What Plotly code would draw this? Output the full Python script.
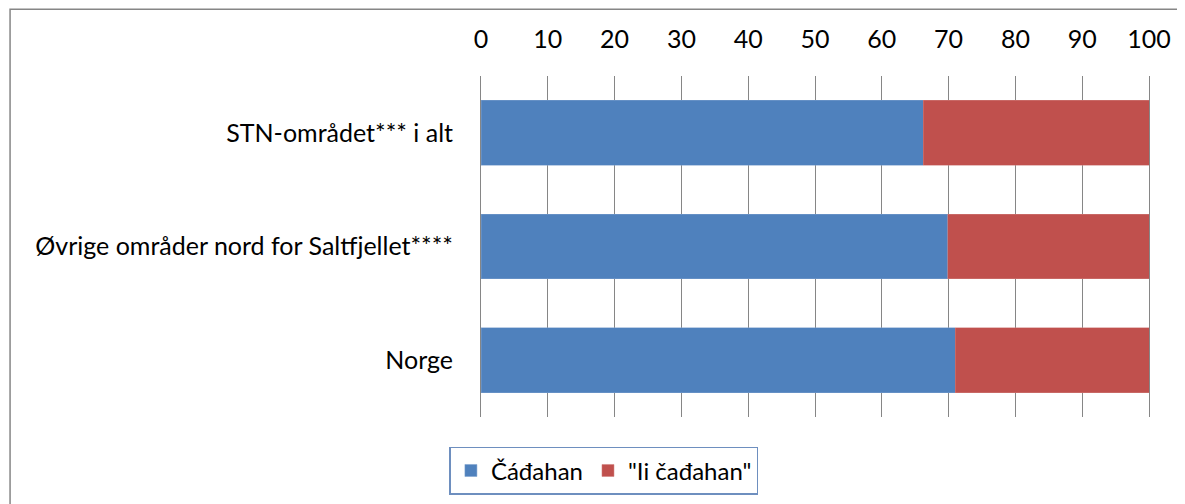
import plotly.graph_objects as go

categories = ["STN-området*** i alt", "Øvrige områder nord for Saltfjellet****", "Norge"]
cadahan = [66.2, 69.9, 71.0]
ii_cadahan = [33.8, 30.1, 29.0]
series_names = ["Čáđahan", "\"Ii čađahan\""]
x_ticks = list(range(0, 101, 10))

font_family = "Lato, Liberation Sans, Arial"

fig = go.Figure()
fig.add_trace(go.Bar(y=categories, x=cadahan, name=series_names[0], orientation="h",
                     marker=dict(color="#4F81BD", line=dict(color="#7BA0CD", width=0.5))))
fig.add_trace(go.Bar(y=categories, x=ii_cadahan, name=series_names[1], orientation="h",
                     marker=dict(color="#C0504D", line=dict(color="#D07F7D", width=0.5))))

fig.update_layout(
    barmode="stack",
    width=1185, height=504,
    margin=dict(l=473, r=44, t=68, b=95),
    paper_bgcolor="white", plot_bgcolor="white",
    font=dict(family=font_family, size=25, color="#000000"),
    bargap=0.43,
    legend=dict(orientation="h", x=0.184, y=-0.158, xanchor="center", yanchor="middle",
                bordercolor="#6E8FBF", borderwidth=1.5, bgcolor="white",
                font=dict(size=24), itemwidth=30, traceorder="normal"),
    showlegend=True,
)
fig.update_xaxes(side="top", range=[0, 100], tickvals=x_ticks, ticktext=[str(v) for v in x_ticks],
                 showgrid=True, gridcolor="#868686", gridwidth=1, zeroline=False,
                 showline=False, ticks="", ticklabelstandoff=22, fixedrange=True)
fig.update_yaxes(categoryorder="array", categoryarray=categories[::-1], autorange=True,
                 showgrid=False, showline=True, mirror=True, linecolor="#868686", linewidth=1,
                 zeroline=False, ticks="", ticklabelstandoff=22)
fig.add_shape(type="rect", xref="paper", yref="paper", x0=-0.705, y0=-0.4, x1=1.2, y1=1.196,
              line=dict(color="#868686", width=1.5), fillcolor="rgba(0,0,0,0)", layer="below")

fig.write_html("out.html")
